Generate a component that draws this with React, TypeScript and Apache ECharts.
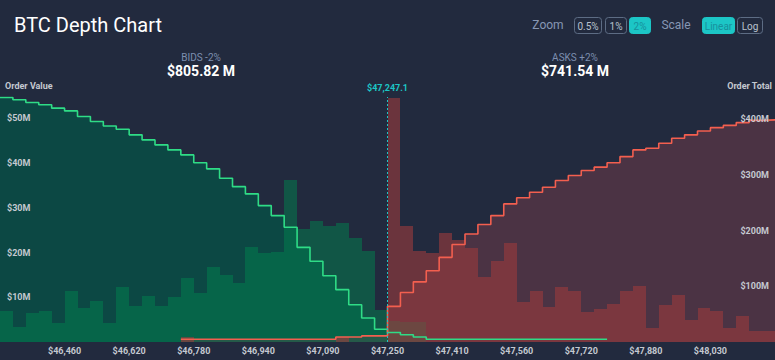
import React, { useEffect, useRef } from "react";
import * as echarts from "echarts";

// ---- data (60 price bins: 30 below mid, 30 above) ----
const midPriceLabel = "$47,247.1";
const priceTicks = ["$46,460", "$46,620", "$46,780", "$46,940", "$47,090", "$47,250", "$47,410", "$47,560", "$47,720", "$47,880", "$48,030"];
const bidsHeader = { label: "BIDS -2%", total: "$805.82 M" };
const asksHeader = { label: "ASKS +2%", total: "$741.54 M" };

// order value per bin ($M, left axis)
const bidValue = [
  7.0, 3.3, 6.5, 7.0, 4.2, 11.4, 7.5, 9.2, 4.2, 12.2,
  8.0, 10.3, 8.0, 10.0, 14.2, 10.9, 16.7, 15.0, 13.1, 21.3,
  19.8, 20.2, 36.3, 25.2, 27.0, 25.9, 26.7, 23.2, 20.4, 7.2,
  4.6, 4.4, 4.5, null, null, null, null, null, null, null,
  null, null, null, null, null, null, null, null, null, null,
  null, null, null, null, null, null, null, null, null, null,
];
const askValue = [
  null, null, null, null, null, null, null, null, null, null,
  null, null, null, null, 1.2, null, null, null, null, null,
  null, null, null, null, null, null, 1.2, null, null, null,
  54.6, 25.9, 20.3, 19.8, 24.3, 22.8, 20.9, 14.6, 18.2, 22.1,
  8.9, 11.5, 7.9, 12.3, 11.3, 6.8, 7.4, 8.5, 11.3, 12.5,
  3.2, 8.3, 10.5, 4.9, 7.5, 6.9, 3.2, 5.8, 2.4, 2.4,
];
// cumulative order total per bin ($M, right axis)
const bidTotal = [
  439, 435, 430, 426, 420, 415, 405, 396, 388, 382,
  372, 363, 354, 345, 336, 322, 311, 294, 279, 266,
  245, 227, 206, 170, 145, 119, 94, 67, 43, 23,
  17, 13, 9, 5, 5, 5, 5, 5, 5, 5,
  5, 5, 5, 5, 5, 5, 5, null, null, null,
  null, null, null, null, null, null, null, null, null, null,
];
const askTotal = [
  null, null, null, null, null, null, null, null, null, null,
  null, null, null, null, 5, 5, 5, 5, 5, 5,
  5, 5, 5, 5, 5, 5, 9, 9, 11, 11,
  64, 89, 108, 128, 152, 175, 194, 211, 227, 248,
  259, 269, 278, 290, 299, 308, 314, 322, 333, 345,
  348, 357, 366, 372, 379, 385, 389, 394, 398, 399,
];

const BG = "#222a3e";
const CYAN = "#1cc6c6";
const LABEL = "#c4c8d0";

function barPoints(values: (number | null)[]) {
  const out: number[][] = [];
  values.forEach((v, i) => {
    if (v != null) out.push([i, v]);
  });
  return out;
}

function stepPoints(values: (number | null)[]) {
  const out: number[][] = [];
  let last = -1;
  values.forEach((v, i) => {
    if (v != null) {
      out.push([i, v]);
      last = i;
    }
  });
  if (last >= 0) out.push([last + 1, values[last] as number]);
  return out;
}

function barSeries(values: (number | null)[], color: string, z: number) {
  return {
    type: "custom",
    xAxisIndex: 0,
    yAxisIndex: 0,
    z,
    silent: true,
    encode: { x: 0, y: 1 },
    data: barPoints(values),
    renderItem: (_params: any, api: any) => {
      const i = api.value(0);
      const v = api.value(1);
      const a = api.coord([i, v]);
      const b = api.coord([i + 1, 0]);
      const x0 = Math.round(a[0]);
      const x1 = Math.round(b[0]);
      const y0 = Math.round(a[1]);
      const y1 = Math.round(b[1]);
      return {
        type: "rect",
        shape: { x: x0, y: y0, width: x1 - x0, height: y1 - y0 },
        style: { fill: color },
      };
    },
  };
}

function areaSeries(values: (number | null)[], color: string) {
  return {
    type: "line",
    yAxisIndex: 1,
    z: 1,
    step: "end",
    symbol: "none",
    silent: true,
    data: stepPoints(values),
    lineStyle: { width: 0 },
    areaStyle: { color, opacity: 1 },
  };
}

function lineSeries(values: (number | null)[], color: string, extra: any = {}) {
  return {
    type: "line",
    yAxisIndex: 1,
    z: 4,
    step: "end",
    symbol: "none",
    silent: true,
    data: stepPoints(values),
    lineStyle: { width: 1.6, color },
    ...extra,
  };
}

function button(x: number, w: number, text: string, active: boolean) {
  return [
    {
      type: "rect",
      shape: { x: x + 0.5, y: 17.5, width: w, height: 16, r: 3 },
      style: active ? { fill: CYAN, stroke: CYAN, lineWidth: 1 } : { fill: "transparent", stroke: "#5d6c84", lineWidth: 1 },
    },
    {
      type: "text",
      x: x + w / 2 + 0.5,
      y: 26,
      style: {
        text,
        fill: active ? "#17909c" : "#b9c2cf",
        font: "10px Roboto",
        align: "center",
        verticalAlign: "middle",
      },
    },
  ];
}

export default function App() {
  const ref = useRef<HTMLDivElement>(null);
  useEffect(() => {
    if (!ref.current) return;
    const chart = echarts.init(ref.current, undefined, { renderer: "svg" });
    const axisText = { color: LABEL, fontSize: 9, fontWeight: "bold", fontFamily: "Roboto" };
    chart.setOption({
      animation: false,
      backgroundColor: BG,
      grid: { left: 0, right: 0, top: 97, bottom: 18 },
      xAxis: {
        type: "value",
        min: 0,
        max: bidValue.length,
        interval: 5,
        axisLine: { show: false },
        axisTick: { show: false },
        splitLine: { show: false },
        axisLabel: {
          ...axisText,
          margin: 4,
          showMinLabel: false,
          showMaxLabel: false,
          formatter: (v: number) => priceTicks[Math.round(v / 5) - 1] ?? "",
        },
      },
      yAxis: [
        {
          type: "value",
          position: "left",
          min: 0,
          max: 54.75,
          interval: 10,
          z: 10,
          axisLine: { show: false },
          axisTick: { show: false },
          splitLine: { show: false },
          axisLabel: {
            ...axisText,
            inside: true,
            margin: 7,
            showMinLabel: false,
            showMaxLabel: false,
            formatter: (v: number) => `$${v}M`,
          },
        },
        {
          type: "value",
          position: "right",
          min: 0,
          max: 440,
          interval: 100,
          z: 10,
          axisLine: { show: false },
          axisTick: { show: false },
          splitLine: { show: false },
          axisLabel: {
            ...axisText,
            inside: true,
            margin: 6,
            showMinLabel: false,
            showMaxLabel: false,
            formatter: (v: number) => `$${v}M`,
          },
        },
      ],
      series: [
        areaSeries(bidTotal, "#0c4844"),
        areaSeries(askTotal, "#4b3344"),
        barSeries(bidValue, "rgba(0,130,78,0.5)", 2),
        barSeries(askValue, "rgba(154,59,61,0.61)", 3),
        lineSeries(bidTotal, "#2fdc86", {
          markLine: {
            silent: true,
            symbol: "none",
            lineStyle: { color: CYAN, type: [2, 2], width: 1, opacity: 1 },
            label: {
              show: true,
              position: "end",
              distance: 5,
              formatter: midPriceLabel,
              color: CYAN,
              fontSize: 9,
              fontWeight: "bold",
              fontFamily: "Roboto",
            },
            data: [{ xAxis: bidValue.length / 2 }],
          },
        }),
        lineSeries(askTotal, "#f35f4f"),
      ],
      graphic: [
        {
          type: "text",
          x: 14,
          y: 25,
          style: { text: "BTC Depth Chart", fill: "#ffffff", font: "20px Roboto", align: "left", verticalAlign: "middle" },
        },
        {
          type: "text",
          x: 548,
          y: 25,
          style: { text: "Zoom", fill: "#8797b4", font: "12px Roboto", align: "center", verticalAlign: "middle" },
        },
        ...button(574, 27, "0.5%", false),
        ...button(605, 21, "1%", false),
        ...button(629, 21, "2%", true),
        {
          type: "text",
          x: 676,
          y: 25,
          style: { text: "Scale", fill: "#8797b4", font: "12px Roboto", align: "center", verticalAlign: "middle" },
        },
        ...button(702, 32, "Linear", true),
        ...button(737, 25, "Log", false),
        {
          type: "text",
          x: 201,
          y: 57,
          style: { text: bidsHeader.label, fill: "#7d8fb0", font: "10px Roboto", align: "center", verticalAlign: "middle" },
        },
        {
          type: "text",
          x: 201,
          y: 71,
          style: { text: bidsHeader.total, fill: "#ffffff", font: "bold 14px Roboto", align: "center", verticalAlign: "middle" },
        },
        {
          type: "text",
          x: 575,
          y: 57,
          style: { text: asksHeader.label, fill: "#7d8fb0", font: "10px Roboto", align: "center", verticalAlign: "middle" },
        },
        {
          type: "text",
          x: 575,
          y: 71,
          style: { text: asksHeader.total, fill: "#ffffff", font: "bold 14px Roboto", align: "center", verticalAlign: "middle" },
        },
        {
          type: "text",
          x: 5,
          y: 86,
          style: { text: "Order Value", fill: LABEL, font: "bold 9px Roboto", align: "left", verticalAlign: "middle" },
        },
        {
          type: "text",
          x: 772,
          y: 86,
          style: { text: "Order Total", fill: LABEL, font: "bold 9px Roboto", align: "right", verticalAlign: "middle" },
        },
      ],
    });
    return () => chart.dispose();
  }, []);
  return <div ref={ref} style={{ position: "fixed", left: 0, top: 0, width: 775, height: 360 }} />;
}
